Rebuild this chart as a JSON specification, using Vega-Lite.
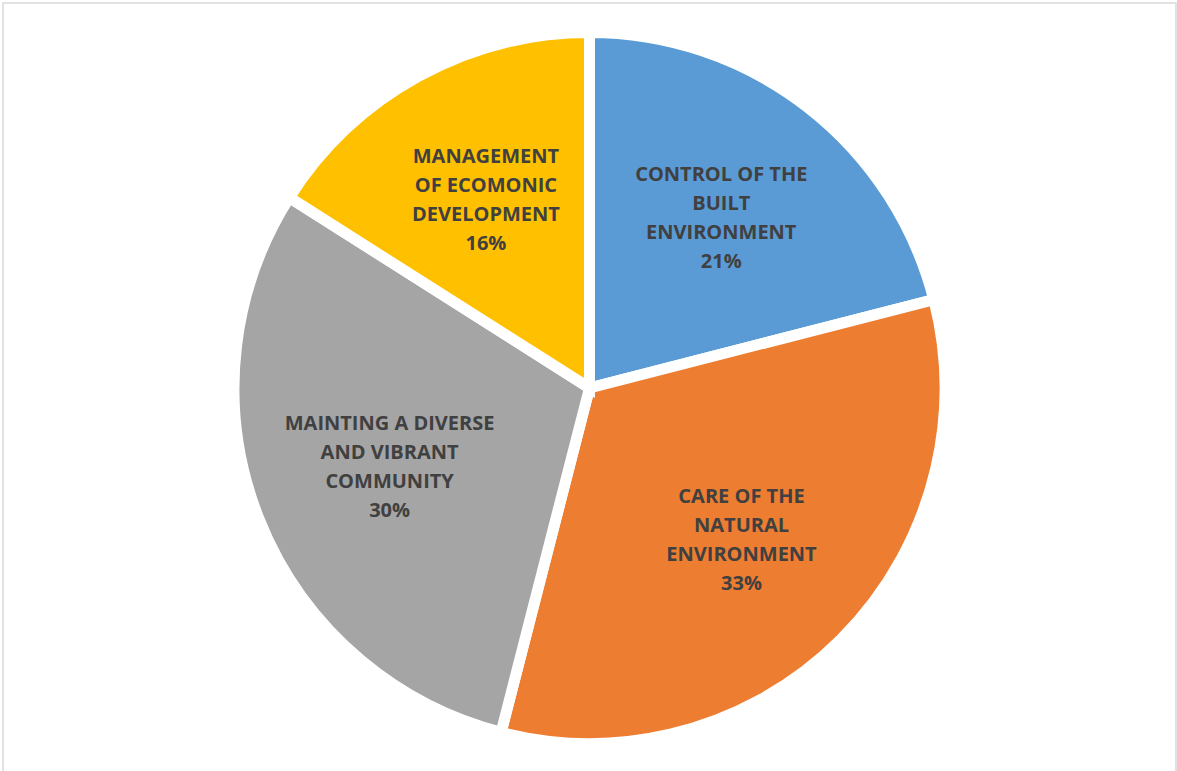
{
  "$schema": "https://vega.github.io/schema/vega-lite/v6.json",
  "width": 1177,
  "height": 771,
  "autosize": {"type": "fit", "contains": "padding"},
  "padding": {"left": 3, "top": 3, "right": 1, "bottom": -2},
  "background": "white",
  "view": {"stroke": "#d9d9d9", "strokeWidth": 1.5, "fill": "white"},
  "data": {
    "values": [
      {"category": "CONTROL OF THE BUILT ENVIRONMENT", "value": 21, "label": "CONTROL OF THE\nBUILT\nENVIRONMENT\n21%"},
      {"category": "CARE OF THE NATURAL ENVIRONMENT", "value": 33, "label": "CARE OF THE\nNATURAL\nENVIRONMENT\n33%"},
      {"category": "MAINTING A DIVERSE AND VIBRANT COMMUNITY", "value": 30, "label": "MAINTING A DIVERSE\nAND VIBRANT\nCOMMUNITY\n30%"},
      {"category": "MANAGEMENT OF ECOMONIC DEVELOPMENT", "value": 16, "label": "MANAGEMENT\nOF ECOMONIC\nDEVELOPMENT\n16%"}
    ]
  },
  "transform": [{"window": [{"op": "row_number", "as": "idx"}]}],
  "encoding": {
    "theta": {"field": "value", "type": "quantitative", "stack": true},
    "order": {"field": "idx", "type": "quantitative"}
  },
  "layer": [
    {
      "mark": {"type": "arc", "outerRadius": 355.5, "stroke": "white", "strokeWidth": 11},
      "encoding": {
        "color": {
          "field": "category",
          "type": "nominal",
          "scale": {
            "domain": ["CONTROL OF THE BUILT ENVIRONMENT", "CARE OF THE NATURAL ENVIRONMENT", "MAINTING A DIVERSE AND VIBRANT COMMUNITY", "MANAGEMENT OF ECOMONIC DEVELOPMENT"],
            "range": ["#5B9BD5", "#ED7D31", "#A5A5A5", "#FFC000"]
          },
          "legend": null
        }
      }
    },
    {
      "mark": {"type": "text", "radius": 215, "dy": -43, "font": "Open Sans", "fontWeight": "bold", "fontSize": 20, "lineHeight": 29, "lineBreak": "\n", "color": "#404040", "align": "center", "baseline": "middle"},
      "encoding": {
        "text": {"field": "label", "type": "nominal"}
      }
    }
  ]
}
